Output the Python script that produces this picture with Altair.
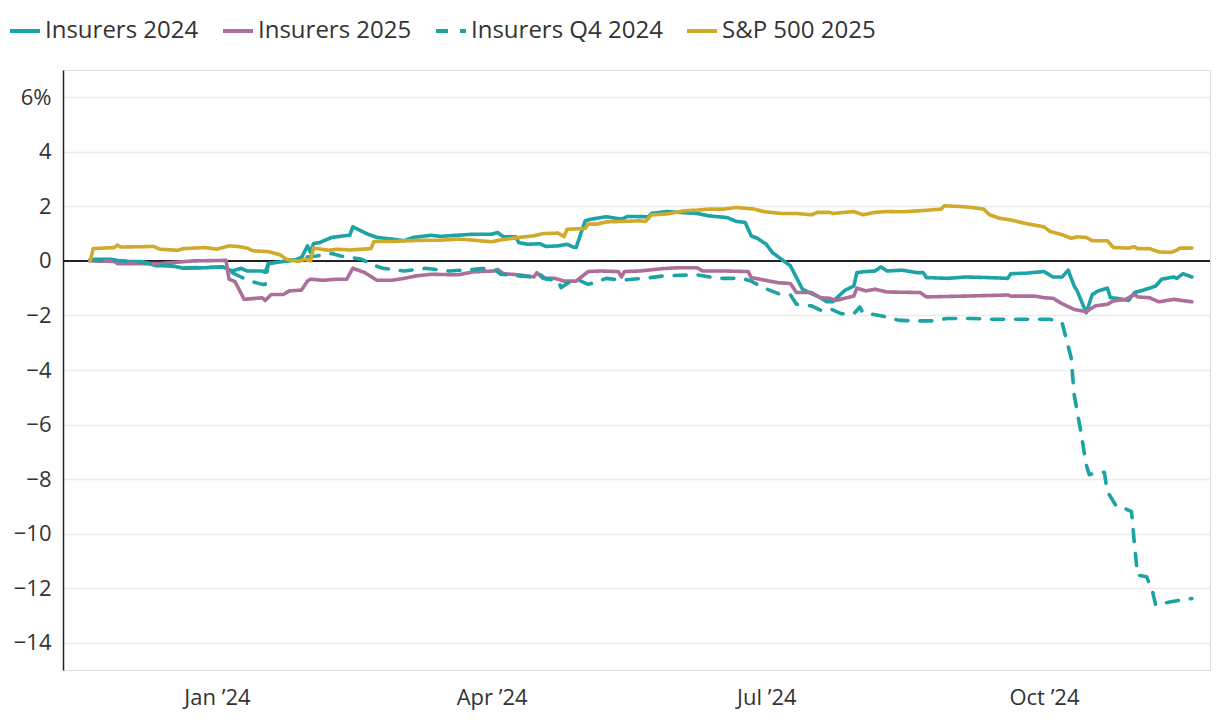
import altair as alt
import pandas as pd

SERIES = ["Insurers 2024", "Insurers 2025", "Insurers Q4 2024", "S&P 500 2025"]
COLORS = ["#1ba3a6", "#ac6f99", "#1ba3a6", "#d2aa2b"]
DASHES = [[1, 0], [1, 0], [12, 12], [1, 0]]
Y_TICKS = [6, 4, 2, 0, -2, -4, -6, -8, -10, -12, -14]

INS_2024 = [
    ("2023-11-20", 0.06), ("2023-11-27", 0.06), ("2023-11-30", -0.02), ("2023-12-07", -0.02),
    ("2023-12-12", -0.18), ("2023-12-17", -0.18), ("2023-12-21", -0.27), ("2023-12-28", -0.25),
    ("2024-01-03", -0.22), ("2024-01-06", -0.37), ("2024-01-09", -0.27), ("2024-01-11", -0.37),
    ("2024-01-16", -0.37), ("2024-01-17", -0.42), ("2024-01-18", -0.10), ("2024-01-23", -0.02),
    ("2024-01-27", 0.04), ("2024-01-29", 0.12), ("2024-01-31", 0.55), ("2024-02-01", 0.31),
    ("2024-02-02", 0.64), ("2024-02-04", 0.67), ("2024-02-08", 0.86), ("2024-02-12", 0.92),
    ("2024-02-14", 0.94), ("2024-02-15", 1.25), ("2024-02-20", 0.98), ("2024-02-23", 0.86),
    ("2024-02-28", 0.80), ("2024-03-03", 0.74), ("2024-03-06", 0.86), ("2024-03-12", 0.94),
    ("2024-03-15", 0.90), ("2024-03-26", 0.98), ("2024-04-01", 0.98), ("2024-04-03", 1.04),
    ("2024-04-05", 0.88), ("2024-04-09", 0.88), ("2024-04-10", 0.67), ("2024-04-13", 0.61),
    ("2024-04-17", 0.63), ("2024-04-19", 0.53), ("2024-04-23", 0.55), ("2024-04-26", 0.61),
    ("2024-04-28", 0.51), ("2024-04-29", 0.49), ("2024-05-02", 1.47), ("2024-05-04", 1.53),
    ("2024-05-09", 1.62), ("2024-05-14", 1.53), ("2024-05-16", 1.63), ("2024-05-23", 1.62),
    ("2024-05-24", 1.74), ("2024-05-29", 1.81), ("2024-06-08", 1.74), ("2024-06-12", 1.65),
    ("2024-06-18", 1.59), ("2024-06-21", 1.45), ("2024-06-24", 1.41), ("2024-06-26", 0.92),
    ("2024-06-28", 0.83), ("2024-07-01", 0.61), ("2024-07-03", 0.31), ("2024-07-06", 0.06),
    ("2024-07-09", -0.18), ("2024-07-13", -1.04), ("2024-07-16", -1.20), ("2024-07-19", -1.35),
    ("2024-07-21", -1.50), ("2024-07-23", -1.50), ("2024-07-27", -1.08), ("2024-07-30", -0.92),
    ("2024-07-31", -0.43), ("2024-08-02", -0.40), ("2024-08-06", -0.37), ("2024-08-08", -0.22),
    ("2024-08-10", -0.37), ("2024-08-15", -0.34), ("2024-08-20", -0.43), ("2024-08-22", -0.43),
    ("2024-08-23", -0.61), ("2024-08-30", -0.64), ("2024-09-05", -0.59), ("2024-09-12", -0.61),
    ("2024-09-19", -0.64), ("2024-09-20", -0.47), ("2024-09-25", -0.45), ("2024-10-01", -0.39),
    ("2024-10-04", -0.59), ("2024-10-07", -0.59), ("2024-10-09", -0.34), ("2024-10-11", -0.92),
    ("2024-10-12", -1.10), ("2024-10-15", -1.90), ("2024-10-17", -1.23), ("2024-10-19", -1.10),
    ("2024-10-22", -1.00), ("2024-10-23", -1.35), ("2024-10-25", -1.37), ("2024-10-29", -1.45),
    ("2024-10-31", -1.16), ("2024-11-02", -1.10), ("2024-11-05", -1.00), ("2024-11-07", -0.92),
    ("2024-11-09", -0.67), ("2024-11-13", -0.59), ("2024-11-14", -0.64), ("2024-11-16", -0.47),
    ("2024-11-19", -0.59),
]

INS_2025 = [
    ("2023-11-20", 0.0), ("2023-11-28", -0.02), ("2023-11-29", -0.10), ("2023-12-13", -0.10),
    ("2023-12-24", 0.0), ("2024-01-04", 0.02), ("2024-01-05", -0.67), ("2024-01-07", -0.76),
    ("2024-01-10", -1.41), ("2024-01-16", -1.35), ("2024-01-17", -1.45), ("2024-01-19", -1.23),
    ("2024-01-23", -1.23), ("2024-01-25", -1.10), ("2024-01-29", -1.07), ("2024-01-31", -0.74),
    ("2024-02-01", -0.67), ("2024-02-05", -0.71), ("2024-02-10", -0.67), ("2024-02-13", -0.67),
    ("2024-02-15", -0.27), ("2024-02-19", -0.43), ("2024-02-23", -0.71), ("2024-02-28", -0.71),
    ("2024-03-03", -0.64), ("2024-03-07", -0.55), ("2024-03-12", -0.49), ("2024-03-21", -0.51),
    ("2024-03-26", -0.40), ("2024-04-02", -0.37), ("2024-04-03", -0.31), ("2024-04-05", -0.47),
    ("2024-04-10", -0.51), ("2024-04-15", -0.59), ("2024-04-16", -0.43), ("2024-04-18", -0.64),
    ("2024-04-22", -0.64), ("2024-04-25", -0.74), ("2024-04-29", -0.74), ("2024-05-03", -0.39),
    ("2024-05-07", -0.37), ("2024-05-13", -0.39), ("2024-05-14", -0.59), ("2024-05-15", -0.39),
    ("2024-05-20", -0.37), ("2024-05-28", -0.28), ("2024-06-02", -0.25), ("2024-06-08", -0.25),
    ("2024-06-10", -0.37), ("2024-06-17", -0.37), ("2024-06-25", -0.39), ("2024-06-26", -0.61),
    ("2024-07-02", -0.74), ("2024-07-05", -0.80), ("2024-07-09", -0.83), ("2024-07-11", -1.16),
    ("2024-07-16", -1.16), ("2024-07-19", -1.35), ("2024-07-22", -1.37), ("2024-07-24", -1.45),
    ("2024-07-30", -1.29), ("2024-07-31", -1.00), ("2024-08-03", -1.10), ("2024-08-06", -1.04),
    ("2024-08-10", -1.14), ("2024-08-21", -1.16), ("2024-08-23", -1.32), ("2024-09-05", -1.29),
    ("2024-09-19", -1.25), ("2024-09-20", -1.29), ("2024-09-28", -1.29), ("2024-10-01", -1.35),
    ("2024-10-04", -1.37), ("2024-10-07", -1.57), ("2024-10-11", -1.78), ("2024-10-15", -1.86),
    ("2024-10-18", -1.65), ("2024-10-22", -1.59), ("2024-10-24", -1.47), ("2024-10-28", -1.41),
    ("2024-10-31", -1.23), ("2024-11-01", -1.32), ("2024-11-05", -1.35), ("2024-11-08", -1.50),
    ("2024-11-13", -1.41), ("2024-11-19", -1.50),
]

INS_Q4_2024 = [
    ("2023-11-20", 0.03), ("2023-11-27", 0.03), ("2023-12-07", -0.05), ("2023-12-13", -0.15),
    ("2023-12-22", -0.25), ("2024-01-03", -0.22), ("2024-01-06", -0.43), ("2024-01-09", -0.59),
    ("2024-01-12", -0.74), ("2024-01-16", -0.86), ("2024-01-17", -0.86), ("2024-01-18", -0.10),
    ("2024-01-23", -0.02), ("2024-01-27", 0.04), ("2024-01-29", 0.12), ("2024-02-03", 0.18),
    ("2024-02-08", 0.27), ("2024-02-11", 0.18), ("2024-02-18", 0.06), ("2024-02-21", -0.12),
    ("2024-02-25", -0.27), ("2024-03-03", -0.37), ("2024-03-10", -0.27), ("2024-03-18", -0.37),
    ("2024-03-26", -0.31), ("2024-03-29", -0.28), ("2024-04-02", -0.31), ("2024-04-04", -0.49),
    ("2024-04-10", -0.55), ("2024-04-16", -0.59), ("2024-04-17", -0.49), ("2024-04-19", -0.67),
    ("2024-04-23", -0.71), ("2024-04-24", -0.98), ("2024-04-26", -0.83), ("2024-04-28", -0.74),
    ("2024-04-30", -0.71), ("2024-05-03", -0.86), ("2024-05-06", -0.76), ("2024-05-09", -0.64),
    ("2024-05-14", -0.71), ("2024-05-23", -0.62), ("2024-05-28", -0.55), ("2024-06-08", -0.51),
    ("2024-06-15", -0.64), ("2024-06-23", -0.64), ("2024-06-26", -0.74), ("2024-06-30", -0.98),
    ("2024-07-05", -1.20), ("2024-07-09", -1.25), ("2024-07-11", -1.59), ("2024-07-16", -1.65),
    ("2024-07-19", -1.81), ("2024-07-22", -1.75), ("2024-07-26", -1.94), ("2024-07-30", -1.94),
    ("2024-08-01", -1.69), ("2024-08-02", -1.90), ("2024-08-07", -1.99), ("2024-08-10", -2.06),
    ("2024-08-14", -2.18), ("2024-08-21", -2.20), ("2024-08-25", -2.20), ("2024-08-30", -2.11),
    ("2024-09-07", -2.11), ("2024-09-14", -2.14), ("2024-09-23", -2.14), ("2024-10-03", -2.14),
    ("2024-10-07", -2.27), ("2024-10-10", -3.55), ("2024-10-11", -4.90), ("2024-10-13", -6.13),
    ("2024-10-15", -7.47), ("2024-10-16", -7.84), ("2024-10-18", -7.78), ("2024-10-21", -7.75),
    ("2024-10-22", -8.46), ("2024-10-25", -9.00), ("2024-10-27", -9.04), ("2024-10-30", -9.19),
    ("2024-10-31", -10.42), ("2024-11-01", -11.52), ("2024-11-04", -11.58), ("2024-11-06", -12.13),
    ("2024-11-07", -12.62), ("2024-11-12", -12.50), ("2024-11-15", -12.44), ("2024-11-19", -12.38),
]

SP500_2025 = [
    ("2023-11-20", 0.0), ("2023-11-21", 0.45), ("2023-11-28", 0.49), ("2023-11-29", 0.58),
    ("2023-11-30", 0.51), ("2023-12-07", 0.52), ("2023-12-11", 0.53), ("2023-12-13", 0.43),
    ("2023-12-19", 0.39), ("2023-12-21", 0.45), ("2023-12-28", 0.49), ("2024-01-01", 0.43),
    ("2024-01-05", 0.55), ("2024-01-08", 0.53), ("2024-01-11", 0.47), ("2024-01-13", 0.37),
    ("2024-01-18", 0.34), ("2024-01-22", 0.22), ("2024-01-24", 0.06), ("2024-01-28", -0.02),
    ("2024-01-30", 0.06), ("2024-02-01", 0.0), ("2024-02-02", 0.47), ("2024-02-07", 0.39),
    ("2024-02-10", 0.43), ("2024-02-14", 0.40), ("2024-02-21", 0.45), ("2024-02-22", 0.71),
    ("2024-02-28", 0.71), ("2024-03-04", 0.74), ("2024-03-12", 0.76), ("2024-03-15", 0.76),
    ("2024-03-21", 0.80), ("2024-03-26", 0.76), ("2024-04-01", 0.70), ("2024-04-04", 0.77),
    ("2024-04-10", 0.86), ("2024-04-15", 0.92), ("2024-04-18", 1.00), ("2024-04-23", 1.02),
    ("2024-04-25", 0.89), ("2024-04-26", 1.16), ("2024-05-02", 1.19), ("2024-05-03", 1.35),
    ("2024-05-06", 1.35), ("2024-05-09", 1.43), ("2024-05-15", 1.45), ("2024-05-20", 1.47),
    ("2024-05-22", 1.45), ("2024-05-24", 1.69), ("2024-05-29", 1.72), ("2024-06-04", 1.84),
    ("2024-06-08", 1.86), ("2024-06-12", 1.90), ("2024-06-17", 1.90), ("2024-06-21", 1.96),
    ("2024-06-27", 1.90), ("2024-06-30", 1.81), ("2024-07-06", 1.74), ("2024-07-11", 1.74),
    ("2024-07-16", 1.69), ("2024-07-18", 1.78), ("2024-07-22", 1.78), ("2024-07-23", 1.74),
    ("2024-07-30", 1.81), ("2024-08-02", 1.69), ("2024-08-06", 1.78), ("2024-08-10", 1.81),
    ("2024-08-15", 1.80), ("2024-08-21", 1.84), ("2024-08-28", 1.90), ("2024-08-29", 2.02),
    ("2024-09-04", 1.99), ("2024-09-07", 1.96), ("2024-09-11", 1.90), ("2024-09-13", 1.69),
    ("2024-09-16", 1.57), ("2024-09-20", 1.50), ("2024-09-25", 1.37), ("2024-10-01", 1.25),
    ("2024-10-03", 1.08), ("2024-10-07", 0.96), ("2024-10-10", 0.83), ("2024-10-12", 0.88),
    ("2024-10-15", 0.86), ("2024-10-17", 0.74), ("2024-10-22", 0.74), ("2024-10-24", 0.49),
    ("2024-10-29", 0.47), ("2024-10-31", 0.52), ("2024-11-01", 0.45), ("2024-11-05", 0.45),
    ("2024-11-08", 0.33), ("2024-11-12", 0.31), ("2024-11-14", 0.39), ("2024-11-15", 0.47),
    ("2024-11-19", 0.47),
]

rows = []
for name, pts in zip(SERIES, [INS_2024, INS_2025, INS_Q4_2024, SP500_2025]):
    for i, (d, v) in enumerate(pts):
        rows.append({"date": d, "value": v, "series": name, "order": i})
df = pd.DataFrame(rows)

FONT = "Open Sans"
TXT = "#333333"

x_enc = alt.X(
    "date:T",
    scale=alt.Scale(
        type="utc",
        domain=[alt.DateTime(year=2023, month=11, date=11, utc=True),
                alt.DateTime(year=2024, month=11, date=25, utc=True)],
    ),
    axis=alt.Axis(
        values=[alt.DateTime(year=2024, month=1, date=1, utc=True),
                alt.DateTime(year=2024, month=4, date=1, utc=True),
                alt.DateTime(year=2024, month=7, date=1, utc=True),
                alt.DateTime(year=2024, month=10, date=1, utc=True)],
        labelExpr="utcFormat(datum.value, '%b \u2019%y')",
        domain=False, ticks=False, grid=False, title=None,
        labelFontSize=22, labelColor=TXT, labelFont=FONT, labelPadding=17,
    ),
)
y_enc = alt.Y(
    "value:Q",
    scale=alt.Scale(domain=[-15, 7], nice=False, zero=False),
    axis=alt.Axis(
        values=Y_TICKS, format="d",
        labelExpr="datum.value == 6 ? '6%' : datum.label",
        grid=True, gridColor="#ebebeb", gridWidth=1.5,
        domain=True, domainColor="#222222", domainWidth=1.5,
        ticks=False, title=None,
        labelFontSize=22, labelColor=TXT, labelFont=FONT, labelPadding=12,
    ),
)

zero = alt.Chart(pd.DataFrame({"z": [0]})).mark_rule(color="#222222", strokeWidth=2).encode(y="z:Q")

lines = alt.Chart(df).mark_line(strokeWidth=3.6, strokeCap="round", strokeJoin="round").encode(
    x=x_enc,
    y=y_enc,
    order="order:Q",
    color=alt.Color(
        "series:N",
        scale=alt.Scale(domain=SERIES, range=COLORS),
        legend=alt.Legend(
            orient="none", legendX=-55, legendY=-56, direction="horizontal", title=None,
            labelFontSize=24, labelColor=TXT, labelFont=FONT, labelLimit=400,
            symbolType="stroke", symbolSize=900, symbolStrokeWidth=3.8,
            labelOffset=3, columnPadding=16, padding=0,
        ),
    ),
    strokeDash=alt.StrokeDash("series:N", scale=alt.Scale(domain=SERIES, range=DASHES)),
)

chart = alt.layer(zero, lines).properties(
    width=1147, height=600,
    autosize=alt.AutoSizeParams(type="none"),
    padding={"left": 55, "top": 62, "right": 2, "bottom": 40},
).configure_view(stroke=None).configure(font=FONT)

chart.save("out.html", embed_options={"renderer": "svg", "actions": False})
